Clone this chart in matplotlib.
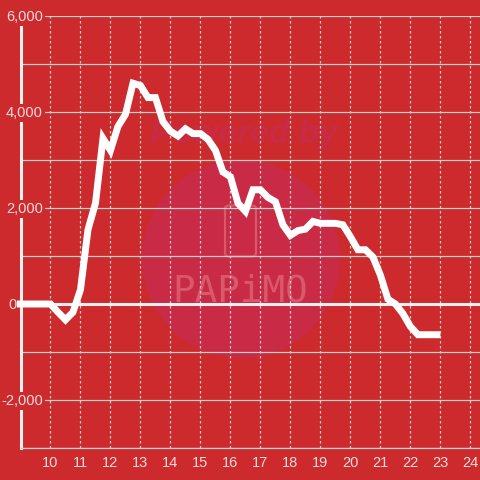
import numpy as np
import matplotlib
matplotlib.use('Agg')
import matplotlib.pyplot as plt
from matplotlib.patches import Ellipse, FancyBboxPatch

plt.rcParams['font.family'] = ['Liberation Sans', 'DejaVu Sans']

# values, one point every 15 min
hours = [8.88, 9.25, 9.5, 9.75, 10, 10.25, 10.5, 10.75, 11, 11.25, 11.5, 11.75, 12, 12.25, 12.5, 12.75,
         13, 13.25, 13.5, 13.75, 14, 14.25, 14.5, 14.75, 15, 15.25, 15.5, 15.75, 16, 16.25, 16.5, 16.75,
         17, 17.25, 17.5, 17.75, 18, 18.25, 18.5, 18.75, 19, 19.25, 19.5, 19.75, 20, 20.25, 20.5, 20.75,
         21, 21.25, 21.5, 21.75, 22, 22.25, 22.5, 22.75, 23]
diff = [0, 0, 0, 0, 0, -170, -330, -170, 300, 1550, 2100, 3450, 3200, 3700, 3950, 4600,
        4550, 4300, 4300, 3800, 3600, 3500, 3650, 3550, 3550, 3430, 3200, 2750, 2650, 2100, 1930, 2380,
        2380, 2220, 2130, 1650, 1430, 1530, 1560, 1720, 1680, 1680, 1680, 1650, 1400, 1130, 1130, 980,
        600, 100, 0, -200, -470, -640, -640, -640, -640]
x_ticks = [10, 11, 12, 13, 14, 15, 16, 17, 18, 19, 20, 21, 22, 23, 24]
y_major = [6000, 4000, 2000, 0, -2000]
y_labels = ['6,000', '4,000', '2,000', '0', '-2,000']
y_minor = [5000, 3000, 1000, -1000, -3000]

RED = '#cc2a2d'
TXT = '#f5dcdc'
GRID = '#c9cfca'
PINK = '#c92a46'
LOGO = '#d9596a'

fig = plt.figure(figsize=(4.8, 4.8), dpi=100, facecolor=RED)
ax = fig.add_axes([20.5/480, (480-448)/480, (480-20.5)/480, (448-16)/480], zorder=2)
ax.set_facecolor('none')
ax.set_xlim(9, 24.32)
ax.set_ylim(-3000, 6000)

# watermark behind the grid
fig.add_artist(Ellipse((241/480, 1-259/480), 198/480, 198/480, transform=fig.transFigure,
                       fc=PINK, ec='none', zorder=0))
fig.add_artist(FancyBboxPatch((225/480, 1-256.5/480), 31/480, 51/480, boxstyle='round,pad=0,rounding_size=0.008',
                              transform=fig.transFigure, fc='none', ec=LOGO, lw=1.6, zorder=0.5))
fig.text(243.5/480, 1-134/480, 'Powered by', color=PINK, fontsize=24, fontweight='bold',
         fontstyle='italic', ha='center', va='center', zorder=0.5)
fig.text(240/480, 1-291/480, 'PAPiMO', color=LOGO, fontsize=27, family='DejaVu Sans Mono',
         ha='center', va='center', zorder=0.5)

ax.set_yticks(y_major)
ax.set_yticks(y_minor, minor=True)
ax.set_xticks(x_ticks)
ax.set_yticklabels([])
ax.grid(True, axis='y', which='both', color=GRID, lw=0.9)
ax.grid(True, axis='x', color=GRID, lw=0.9, ls=(0, (2, 2)))
ax.set_axisbelow(True)

ax.tick_params(axis='both', which='both', length=0)
ax.tick_params(axis='x', colors=TXT, labelsize=10.5, pad=5.6)

for s in ['top', 'right']:
    ax.spines[s].set_visible(False)
ax.spines['left'].set_color('#f4f0ef')
ax.spines['left'].set_linewidth(2.2)
ax.spines['left'].set_zorder(2)
ax.spines['bottom'].set_color(GRID)
ax.spines['bottom'].set_linewidth(0.9)

ax.axhline(0, color='#f8efee', lw=2.2, zorder=2)
ax.plot(hours, diff, color='white', lw=5, solid_joinstyle='miter', solid_capstyle='butt',
        zorder=3, clip_on=False)

# y labels sit on top of the axis line and hide it, the 0 one stays left of it
for v, lab in zip(y_major, y_labels):
    if v == 0:
        ax.annotate(lab, (0, v), xycoords=('axes fraction', 'data'), xytext=(-3, -0.8), textcoords='offset points',
                    ha='right', va='center', color=TXT, fontsize=10.5, zorder=4, annotation_clip=False)
    else:
        ax.annotate(lab, (0, v), xycoords=('axes fraction', 'data'), xytext=(16.2, -0.8), textcoords='offset points',
                    ha='right', va='center', color=TXT, fontsize=10.5, zorder=4, annotation_clip=False,
                    bbox=dict(fc=RED, ec='none', pad=1.5))

fig.savefig('out.png', dpi=100, facecolor=RED)
